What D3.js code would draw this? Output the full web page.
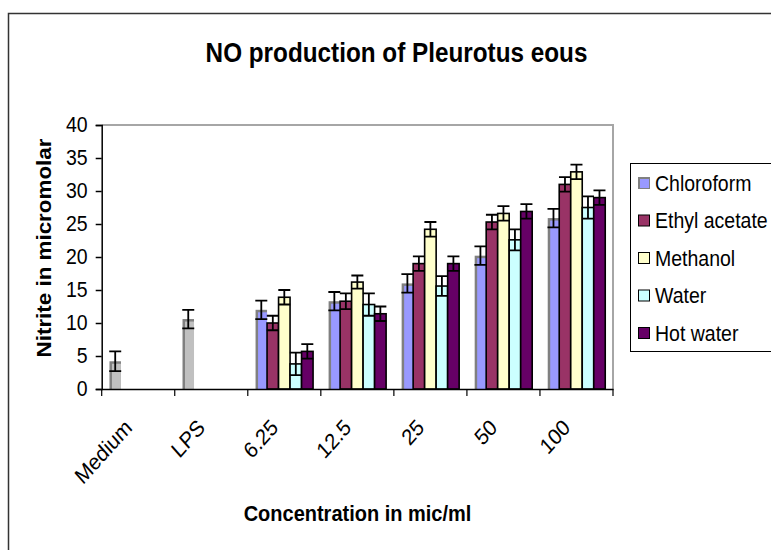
<!DOCTYPE html>
<meta charset="utf-8">
<head>
    <style>
        body { margin: 0; background: #fff; }
        text { font-family: "Liberation Sans", Arial, sans-serif; fill: #000; }
        .tick-label { font-size: 19.5px; }
        .cat-label { font-size: 20px; }
        .axis-title { font-size: 20px; font-weight: 700; }
        .chart-title { font-size: 24.3px; font-weight: 700; text-anchor: middle; }
        .legend-label { font-size: 19.5px; }
    </style>
</head>

<script src="https://d3js.org/d3.v7.min.js"></script>

<div id="chart"></div>

<script>
    // categories on the x axis
    const categories = ["Medium", "LPS", "6.25", "12.5", "25", "50", "100"];
    const controlCats = ["Medium", "LPS"];
    const concCats = ["6.25", "12.5", "25", "50", "100"];

    // controls (drawn in grey in the first slot)
    const controlValues = [4.2, 10.6];
    const controlErrors = [1.5, 1.4];

    // extracts, one value per concentration
    const seriesNames = ["Chloroform", "Ethyl acetate", "Methanol", "Water", "Hot water"];
    const seriesColors = ["#9999ff", "#993366", "#ffffcc", "#ccffff", "#660066"];
    const chloroform = [12.0, 13.3, 16.0, 20.2, 25.9];
    const chloroformErr = [1.4, 1.4, 1.4, 1.4, 1.4];
    const ethylAcetate = [10.0, 13.3, 19.0, 25.3, 31.0];
    const ethylAcetateErr = [1.1, 1.2, 1.1, 1.1, 1.1];
    const methanol = [13.9, 16.2, 24.2, 26.6, 32.9];
    const methanolErr = [1.1, 1.0, 1.1, 1.1, 1.1];
    const water = [3.8, 12.8, 15.6, 22.6, 27.5];
    const waterErr = [1.7, 1.7, 1.5, 1.6, 1.7];
    const hotWater = [5.7, 11.4, 19.0, 26.9, 29.0];
    const hotWaterErr = [1.1, 1.1, 1.1, 1.1, 1.1];

    const yTicks = [0, 5, 10, 15, 20, 25, 30, 35, 40];

    const seriesValues = [chloroform, ethylAcetate, methanol, water, hotWater];
    const seriesErrors = [chloroformErr, ethylAcetateErr, methanolErr, waterErr, hotWaterErr];

    // picture is a bit taller than wide, so text gets a vertical stretch
    const stretch = "scale(1,1.12)";

    const W = 771, H = 550;
    const plot = { left: 101.7, right: 613, top: 125, bottom: 389 };

    const svg = d3.select("#chart").append("svg")
        .attr("width", W).attr("height", H);

    svg.append("rect").attr("width", W).attr("height", H).attr("fill", "#fff");

    // outer chart border (cut off on the right and bottom)
    svg.append("rect")
        .attr("x", 8.5).attr("y", 13.5)
        .attr("width", W + 20).attr("height", H + 20)
        .attr("fill", "none").attr("stroke", "#333").attr("stroke-width", 1.5);

    const x = d3.scaleBand().domain(categories).range([plot.left, plot.right]);
    const xs = d3.scaleBand().domain(seriesNames).range([0, x.bandwidth()])
        .paddingInner(0).paddingOuter(0.675);
    const y = d3.scaleLinear().domain([0, 40]).range([plot.bottom, plot.top]);

    // plot area frame (top and right)
    svg.append("path")
        .attr("d", `M${plot.left},${plot.top}H${plot.right}V${plot.bottom}`)
        .attr("fill", "none").attr("stroke", "#a6a6a6").attr("stroke-width", 2);

    // title
    svg.append("text")
        .attr("class", "chart-title")
        .attr("transform", `translate(396.5,62) ${stretch}`)
        .text("NO production of Pleurotus eous");

    // build flat bar list
    const bars = [];
    controlCats.forEach((c, i) => {
        bars.push({ cat: c, series: "Chloroform", value: controlValues[i], err: controlErrors[i], fill: "#c0c0c0", shade: true });
    });
    seriesNames.forEach((s, si) => {
        concCats.forEach((c, ci) => {
            bars.push({ cat: c, series: s, value: seriesValues[si][ci], err: seriesErrors[si][ci], fill: seriesColors[si], shade: si === 0 });
        });
    });

    const bw = xs.bandwidth();
    const barG = svg.append("g");

    bars.forEach(d => {
        const bx = x(d.cat) + xs(d.series);
        const by = y(d.value);
        const bh = y(0) - by;
        if (d.shade) {
            // grey border drawn on the left / top like the original
            barG.append("rect")
                .attr("x", bx).attr("y", by).attr("width", bw).attr("height", bh)
                .attr("fill", "#808080");
            barG.append("rect")
                .attr("x", bx + 2.5).attr("y", by + 2.5)
                .attr("width", bw - 2.5).attr("height", Math.max(0, bh - 2.5))
                .attr("fill", d.fill);
        } else {
            barG.append("rect")
                .attr("x", bx).attr("y", by).attr("width", bw).attr("height", bh)
                .attr("fill", d.fill).attr("stroke", "#000").attr("stroke-width", 1.6);
        }
    });

    // error bars on top
    const errG = svg.append("g").attr("stroke", "#000").attr("stroke-width", 1.8).attr("fill", "none");
    bars.forEach(d => {
        const cx = x(d.cat) + xs(d.series) + bw / 2;
        const y1 = y(d.value + d.err), y0 = y(d.value - d.err);
        errG.append("path")
            .attr("d", `M${cx},${y0}V${y1}M${cx - 6},${y1}H${cx + 6}M${cx - 6},${y0}H${cx + 6}`);
    });

    // y axis
    const yAxis = svg.append("g")
        .attr("transform", `translate(${plot.left},0)`)
        .call(d3.axisLeft(y).tickValues(yTicks).tickSize(6).tickPadding(8));
    yAxis.selectAll("path, line").attr("stroke", "#000").attr("stroke-width", 1.5);
    yAxis.selectAll("text")
        .attr("class", "tick-label")
        .attr("fill", "#000")
        .attr("transform", stretch);

    // x axis: line with ticks at category boundaries
    const xAxis = svg.append("g")
        .attr("transform", `translate(0,${plot.bottom})`)
        .call(d3.axisBottom(x).tickSize(0).tickFormat(""));
    xAxis.select(".domain").attr("stroke", "#000").attr("stroke-width", 1.5);
    const bounds = categories.map(c => x(c)).concat([x(categories[categories.length - 1]) + x.step()]);
    xAxis.selectAll(".bound")
        .data(bounds)
        .enter().append("line")
        .attr("x1", d => d).attr("x2", d => d)
        .attr("y1", 0).attr("y2", 7)
        .attr("stroke", "#000").attr("stroke-width", 1.2);

    // rotated category labels
    svg.append("g").selectAll("text")
        .data(categories)
        .enter().append("text")
        .attr("class", "cat-label")
        .attr("text-anchor", "end")
        .attr("transform", d => `translate(${x(d) + x.bandwidth() / 2 - 5},${plot.bottom + 40}) ${stretch} rotate(-45)`)
        .text(d => d);

    // axis titles
    svg.append("text")
        .attr("class", "axis-title")
        .attr("text-anchor", "middle")
        .attr("transform", `translate(357.5,521) ${stretch}`)
        .text("Concentration in mic/ml");

    svg.append("text")
        .attr("class", "axis-title")
        .attr("text-anchor", "middle")
        .attr("transform", `translate(51,248) ${stretch} rotate(-90)`)
        .text("Nitrite in micromolar");

    // legend
    const legend = svg.append("g");
    legend.append("rect")
        .attr("x", 630.5).attr("y", 163.5).attr("width", 200).attr("height", 188)
        .attr("fill", "#fff").attr("stroke", "#000").attr("stroke-width", 1);

    seriesNames.forEach((s, i) => {
        const cy = 183 + i * 37.5;
        if (i === 0) {
            legend.append("rect").attr("x", 638).attr("y", cy - 6).attr("width", 12).attr("height", 12).attr("fill", "#808080");
            legend.append("rect").attr("x", 640).attr("y", cy - 4).attr("width", 9).attr("height", 9).attr("fill", seriesColors[i]);
        } else {
            legend.append("rect").attr("x", 638.5).attr("y", cy - 5.5).attr("width", 11).attr("height", 11)
                .attr("fill", seriesColors[i]).attr("stroke", "#000").attr("stroke-width", 1);
        }
        legend.append("text")
            .attr("class", "legend-label")
            .attr("transform", `translate(655,${cy + 7.5}) ${stretch}`)
            .text(s);
    });
</script>
